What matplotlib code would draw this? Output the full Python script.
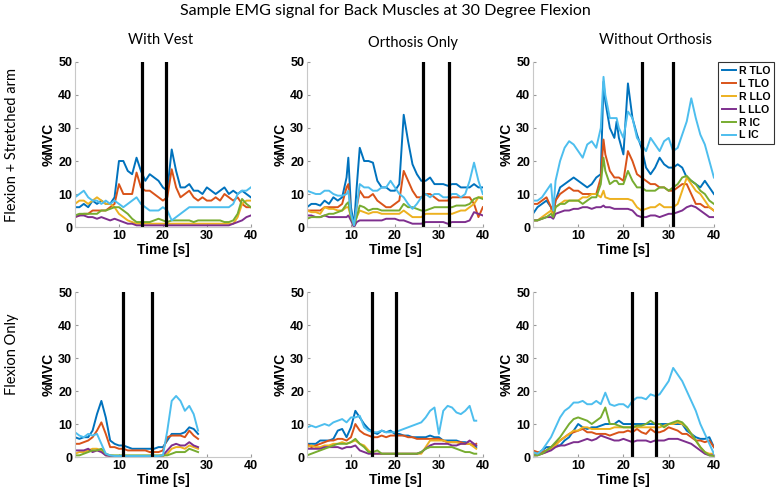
import numpy as np
import matplotlib
matplotlib.use("Agg")
import matplotlib.pyplot as plt

# Muscle names and MATLAB default line colours
muscles = ["R TLO", "L TLO", "R LLO", "L LLO", "R IC", "L IC"]
colors = ["#0072BD", "#D95319", "#EDB120", "#7E2F8E", "#77AC30", "#4DBEEE"]

col_titles = ["With Vest", "Orthosis Only", "Without Orthosis"]
row_titles = ["Flexion + Stretched arm", "Flexion Only"]

# ---- Row 1, With Vest ----
t_va = list(range(0, 41))
va_rtlo = [6, 6, 7, 6, 8, 7, 8, 7, 7, 9, 20, 20, 17, 16, 21, 17, 14, 16, 15, 14, 12, 11, 23.5, 17, 12, 12, 13, 11, 11, 10, 12, 11, 10, 11, 12, 10, 11, 10, 11, 10, 9]
va_ltlo = [3, 3.5, 4, 4, 5, 5, 5, 5, 6, 7, 13, 10, 10, 10, 16.5, 12, 11, 11, 10, 9, 8, 9, 17.5, 12, 9, 10, 11, 9, 8, 9, 8, 8, 9, 8, 10, 9, 8, 9, 7, 6, 6]
va_rllo = [7, 8, 8, 7, 8, 9, 8, 7, 7, 6, 4, 3, 2, 1.5, 1, 1, 1, 1, 1, 1, 1, 1, 1, 1, 1, 1, 1, 1, 1, 1, 1, 1, 1, 1, 1, 1, 1, 3, 7, 8, 8]
va_lllo = [3, 3.5, 3.5, 3, 3, 2.5, 3, 2.5, 2, 2.5, 2, 1.5, 1, 1, 0.5, 0.5, 0.5, 0.5, 0.5, 0.5, 0.5, 0.5, 0.5, 0.5, 0.5, 0.5, 0.5, 0.5, 0.5, 0.5, 0.5, 0.5, 0.5, 0.5, 0.5, 0.5, 1, 1.5, 2, 3, 3.5]
va_ric = [3.5, 4, 4, 4, 4, 4, 5, 5, 5.5, 6, 6, 5, 4, 2.5, 1.5, 1.5, 1.5, 1.5, 2, 2.5, 2, 1.5, 2, 2, 2, 2, 2, 1.5, 2, 2, 2, 2, 2, 2, 1.5, 1.5, 2, 4, 8.5, 7, 6]
va_lic = [9, 10, 11, 9, 8, 8, 7, 8, 7, 8, 7, 6, 7, 8, 9, 7, 6, 5, 5, 5, 6, 5, 2, 3, 4, 5, 6, 6, 6, 6, 6, 6, 6, 6, 6, 6, 7, 10, 11, 11, 12]
va_marks = [15.3, 20.7]

# ---- Row 1, Orthosis Only ----
t_oa = [0, 1, 2, 3, 4, 5, 6, 7, 8, 9, 9.4, 10, 10.7, 11.3, 12, 13, 14, 15, 16, 17, 18, 19, 20, 21, 22, 23, 24, 25, 26, 27, 28, 29, 30, 31, 32, 33, 34, 35, 36, 37, 38, 39, 40]
oa_rtlo = [6, 7, 7, 6.5, 8, 7, 9, 8, 9, 15, 21, 6, 0.5, 12, 24, 20, 20, 19.5, 14, 12, 12, 11, 11, 13, 34, 26, 19, 16, 14, 14, 15, 13, 13, 13, 12.5, 13, 13, 12, 12, 12, 13, 12, 12]
oa_ltlo = [5, 5, 5, 5, 6, 6, 6, 6, 7, 12, 13, 3, 0, 6, 11, 9, 9, 10, 8, 7, 6, 6, 7, 8, 17, 14, 11, 9, 9, 10, 10, 9, 8, 8, 8, 9, 9, 9, 9, 9, 7, 3, 6]
oa_rllo = [5, 4.5, 4.5, 4, 6, 5.5, 5.5, 5, 5, 6, 6, 3, 0.5, 3, 5, 4.5, 4, 4.5, 4.5, 4, 4, 4, 4, 4, 5, 4, 3, 3, 3, 4, 4, 4, 4, 4, 4, 4, 4.5, 5, 5, 6, 7, 9, 9]
oa_lllo = [3.5, 3.5, 3, 3, 3.5, 3, 3, 3, 3, 3, 3.5, 2, 0, 1.5, 2, 2, 2, 2, 2, 2, 2.5, 2.5, 2.5, 2, 2, 1.5, 1, 1, 1, 1.5, 1.5, 1.5, 1.5, 1.5, 1, 1.5, 1.5, 1.5, 1.5, 2, 4.5, 4, 3.5]
oa_ric = [2.5, 3, 3, 3, 3.5, 4, 4, 4.5, 5, 7, 7.5, 3, 0.5, 3, 6.5, 6, 5, 5.5, 5.5, 5, 5, 5, 5, 5, 7, 6, 6, 5.5, 5, 5, 5.5, 6, 6, 6, 6, 6, 6.5, 6.5, 6.5, 7, 8.5, 9, 8.5]
oa_lic = [11, 10.5, 10, 10, 11, 11, 10, 9.5, 9.5, 10, 11, 4, 0.5, 6, 13, 12, 12, 11, 11, 12, 12, 14, 12, 10, 9, 7, 5.5, 7, 9, 10, 9, 10, 10, 9, 9, 10, 10, 9, 10, 14, 19.5, 14, 10]
oa_marks = [26.5, 32.3]

# ---- Row 1, Without Orthosis ----
t_na = [0, 1, 2, 3, 4, 4.5, 5, 6, 7, 8, 9, 10, 11, 12, 13, 14, 15, 15.6, 16, 17, 18, 18.5, 19, 20, 21, 22, 23, 24, 25, 26, 27, 28, 29, 30, 31, 32, 33, 34, 35, 36, 37, 38, 39, 40]
na_rtlo = [4, 6, 7, 8, 6, 3, 8, 12, 13, 14, 15, 14, 13, 12, 13, 15, 16, 44, 38, 30, 27, 32, 27, 22, 43.5, 33, 28, 24, 18, 16, 18, 21, 19, 18, 18, 19, 18, 15, 14, 13, 12, 14, 12, 10]
na_ltlo = [7, 7, 8, 9, 6, 4, 8, 10, 11, 12, 11, 11, 10, 10, 10, 10, 15, 26.5, 22, 17, 15, 15, 15, 14, 23, 20, 16, 15, 14, 13, 13, 12, 12, 11, 11, 12, 13, 13, 10, 7, 7, 6, 6, 5]
na_rllo = [2, 2, 3, 4, 5, 3, 6, 7, 8, 8, 8, 8, 9, 9, 10, 10, 9, 11, 9, 8.5, 8.5, 8.5, 8.5, 8.5, 8.5, 8, 6, 5, 5.5, 6, 6, 7, 6, 6, 6, 7, 11, 15, 13, 11, 10, 8, 6, 5]
na_lllo = [2, 2, 2.5, 3, 3, 2.5, 4, 4.5, 5, 5, 5.5, 5.5, 6, 6, 5.5, 6, 6, 6.5, 6, 6, 5.5, 5.5, 5.5, 5.5, 5.5, 5, 3.5, 3, 3, 3.5, 3.5, 3, 3.5, 4, 4, 4.5, 5, 6, 6.5, 6, 5, 4, 3, 3]
na_ric = [2, 2, 2.5, 3, 4, 3, 6, 7, 7, 8, 8, 8, 7, 8, 9, 9, 13, 21, 17, 13, 14, 14, 13, 13, 17, 14, 12, 12, 11, 11, 11, 12, 12, 11, 12, 13, 15, 15.5, 14, 13, 11, 10, 8, 7]
na_lic = [8, 8, 9, 11, 13, 5, 14, 20, 24, 26, 25, 23, 21, 25, 26, 24, 30, 45.5, 40, 33, 33, 33, 30, 27, 35, 33, 27, 25, 23, 27, 25, 23, 26, 27, 23, 24, 28, 32, 39, 33, 28, 25, 20, 15]
na_marks = [24.2, 31.0]

# ---- Row 2, With Vest ----
t_vb = list(range(0, 29))
vb_rtlo = [6, 5.5, 6, 6, 8, 13, 17, 12, 5, 4, 3.5, 3.5, 3, 2.5, 2.5, 2.5, 2.5, 2.5, 2.5, 3, 3, 5, 7, 7, 7, 7.5, 9, 8.5, 7]
vb_ltlo = [4, 4, 4.5, 5, 6, 8, 10.5, 7, 3, 3, 2.5, 2.5, 2, 2, 2, 2, 2, 1.5, 1.5, 1.5, 2, 6, 6.5, 6.5, 6.5, 6, 8, 6.5, 5.5]
vb_rllo = [1, 1.5, 1.5, 2, 2.5, 2.5, 2, 0.5, 0.5, 0.3, 0.3, 0.3, 0.3, 0.3, 0.3, 0.3, 0.3, 0.3, 0.3, 0.3, 0.3, 1, 2.5, 3, 3, 2.5, 3.5, 3, 2.5]
vb_lllo = [2, 2, 2, 2.5, 1.5, 2, 1.5, 0.5, 0.3, 0.3, 0.3, 0.3, 0.3, 0.3, 0.3, 0.3, 0.3, 0.3, 0.3, 0.3, 0.5, 2, 3.5, 4, 3.5, 3.5, 4.5, 3.5, 3]
vb_ric = [0.5, 0.5, 1, 1.5, 2, 2, 2.5, 1, 0.5, 0.5, 0.5, 0.5, 0.5, 0.5, 0.5, 0.5, 0.5, 0.5, 0.5, 0.5, 0.5, 0.5, 1, 1.5, 1.5, 1.5, 2.5, 2, 1.5]
vb_lic = [7.5, 6.5, 6, 7, 6.5, 7, 4, 1, 0.5, 0.3, 0.3, 0.3, 0.3, 0.3, 0.3, 0.3, 0.3, 0.3, 0.3, 0.3, 0.5, 8, 17, 18.5, 17, 14, 15.5, 13, 8]
vb_marks = [11.0, 17.5]

# ---- Row 2, Orthosis Only ----
t_ob = list(range(0, 39)) + [38.5]
ob_rtlo = [4, 4, 4, 5, 5, 5, 5.5, 8, 8.5, 6, 9, 14, 12, 10, 8.5, 7.5, 7, 8, 7.5, 8, 7, 7, 6.5, 6.5, 6, 6, 6, 6, 6.5, 6, 6, 5, 5, 5, 5, 4.5, 4.5, 4, 3.5, 3]
ob_ltlo = [4, 3, 3.5, 4, 4.5, 5, 5, 5.5, 5.5, 5, 6, 10, 8, 7, 6.5, 6, 6, 6.5, 6, 6.5, 6.5, 6.5, 6.5, 6, 6, 5.5, 5.5, 5.5, 5.5, 5.5, 5.5, 5, 4.5, 4.5, 4.5, 4.5, 4, 4, 3.5, 4]
ob_rllo = [3, 3.5, 3, 3, 3.5, 3.5, 4, 4, 4.5, 4, 4.5, 5, 4, 3.5, 2, 1, 1, 1, 1, 1, 1, 1, 1, 1, 1, 1, 1, 3, 5, 5, 5, 5, 4.5, 4.5, 4.5, 4, 4, 4, 3, 2.5]
ob_lllo = [2.5, 2.5, 2.5, 2.5, 3, 3, 3, 3, 2.5, 3, 3, 3.5, 2, 1.5, 1, 1, 1, 1, 1, 1, 1, 1, 1, 1, 1, 1, 1.5, 2.5, 3.5, 4, 4, 4, 4, 3.5, 3.5, 4, 4, 5, 4, 3.5]
ob_ric = [0.5, 1, 1.5, 2, 2.5, 3, 3.5, 4, 4, 4, 4.5, 5.5, 4, 3, 1.5, 1.5, 2, 1, 1, 1, 1, 1, 1, 1, 1, 1, 1.5, 2.5, 3, 3, 3, 3, 3, 3, 2.5, 2, 1.5, 1.5, 1, 1]
ob_lic = [9, 9.5, 9, 9.5, 10, 9.5, 10.5, 11, 11.5, 10.5, 12, 12, 12.5, 9, 8, 7.5, 7.5, 8, 7.5, 7.5, 7.5, 8, 8.5, 9, 9.5, 10, 10.5, 12, 14, 15, 7, 14, 15.5, 15, 13.5, 13, 14, 15.5, 11, 11]
ob_marks = [14.8, 20.2]

# ---- Row 2, Without Orthosis ----
t_nb = list(range(0, 41))
nb_rtlo = [1, 1, 2, 3, 3, 3.5, 3.5, 5, 6, 8, 10, 9, 8.5, 9, 9, 9.5, 10, 10, 10, 11, 10, 10, 10, 10, 10, 10, 10, 10, 10, 10, 10, 10, 10, 10, 8, 7, 6, 5.5, 5.5, 6, 3]
nb_ltlo = [2, 1.5, 1.5, 2, 3, 4, 5, 6, 7, 7.5, 8, 8.5, 7.5, 7.5, 7, 7, 7, 6.5, 7, 7.5, 7.5, 8, 7.5, 8.5, 7.5, 7, 8.5, 7.5, 7.5, 8, 9, 8.5, 8, 7, 7, 6, 5, 5, 4.5, 5, 3]
nb_rllo = [1, 1, 1, 1.5, 2.5, 3.5, 5, 6, 7, 8, 8, 9, 9, 8.5, 8.5, 8.5, 8.5, 8.5, 9, 9, 9, 9, 9, 9, 9, 9, 9, 9, 9, 9.5, 10, 10, 10.5, 10, 9, 7, 5, 3, 1.5, 1, 1]
nb_lllo = [0.5, 0.5, 1, 1.5, 2, 3, 3.5, 3.5, 4, 4.5, 4.5, 5, 5.5, 5, 5.5, 6.5, 6, 5.5, 5, 5, 5.5, 5, 4.5, 5, 5, 5, 4.5, 5, 5, 5, 5.5, 5.5, 5.5, 5, 4.5, 4, 3, 2, 1, 0.5, 0.5]
nb_ric = [0.5, 0.5, 1, 2, 3, 4.5, 6, 8, 10, 11.5, 12, 11.5, 11, 10, 11, 12, 15, 10, 10, 9.5, 9, 9, 9, 9.5, 9.5, 10, 11, 10, 10, 9, 10, 10.5, 11, 10.5, 9, 7, 5, 3, 1.5, 0.5, 0.3]
nb_lic = [1.5, 1, 2, 4, 6, 9, 12, 14, 15, 16.5, 16.5, 17, 16, 16, 17, 16, 19.5, 16, 15.5, 16, 16, 15, 17, 18, 18, 17.5, 19, 18.5, 19, 21, 23, 27, 25, 23, 20, 17, 14, 10, 7, 4, 1]
nb_marks = [22.0, 27.3]

panels = [
    [(t_va, [va_rtlo, va_ltlo, va_rllo, va_lllo, va_ric, va_lic], va_marks),
     (t_oa, [oa_rtlo, oa_ltlo, oa_rllo, oa_lllo, oa_ric, oa_lic], oa_marks),
     (t_na, [na_rtlo, na_ltlo, na_rllo, na_lllo, na_ric, na_lic], na_marks)],
    [(t_vb, [vb_rtlo, vb_ltlo, vb_rllo, vb_lllo, vb_ric, vb_lic], vb_marks),
     (t_ob, [ob_rtlo, ob_ltlo, ob_rllo, ob_lllo, ob_ric, ob_lic], ob_marks),
     (t_nb, [nb_rtlo, nb_ltlo, nb_rllo, nb_lllo, nb_ric, nb_lic], nb_marks)],
]

fig = plt.figure(figsize=(7.78, 4.92), dpi=100)

# axes placement (figure fractions)
lefts = [0.0964, 0.3946, 0.685]
widths = [0.226, 0.226, 0.2326]
bottoms = [0.5386, 0.0711]
height = 0.3354

for r in range(2):
    for c in range(3):
        ax = fig.add_axes([lefts[c], bottoms[r], widths[c], height])
        t, series, marks = panels[r][c]
        for vals, col, name in zip(series, colors, muscles):
            ax.plot(t, vals, color=col, lw=1.4, label=name)
        for m in marks:
            ax.axvline(m, color="black", lw=2.3)
        ax.set_xlim(0, 40)
        ax.set_ylim(0, 50)
        ax.set_xticks([10, 20, 30, 40])
        ax.set_yticks([0, 10, 20, 30, 40, 50])
        for s in ["top", "right"]:
            ax.spines[s].set_visible(False)
        for s in ["left", "bottom"]:
            ax.spines[s].set_color("#c8c8c8")
            ax.spines[s].set_linewidth(0.8)
        ax.tick_params(direction="in", length=2, color="#999999", labelsize=9, pad=2)
        for lab in ax.get_xticklabels() + ax.get_yticklabels():
            lab.set_fontweight("bold")
            lab.set_family("Liberation Sans")
        ax.set_xlabel("Time [s]", fontsize=10, fontweight="bold", family="Liberation Sans", labelpad=1)
        ax.set_ylabel("%MVC", fontsize=10, fontweight="bold", family="Liberation Sans", labelpad=2)
        if r == 0 and c == 2:
            leg = ax.legend(loc="upper left", bbox_to_anchor=(1.025, 1.0), frameon=True, fancybox=False,
                            edgecolor="black", fontsize=7.6, handlelength=1.3, handletextpad=0.3,
                            borderpad=0.35, labelspacing=0.28, borderaxespad=0)
            leg.get_frame().set_linewidth(0.8)
            for txt in leg.get_texts():
                txt.set_fontweight("bold")
                txt.set_family("Liberation Sans")

# titles
fig.text(0.495, 0.978, "Sample EMG signal for Back Muscles at 30 Degree Flexion",
         ha="center", va="center", fontsize=11.5, family="Lato")
col_x = [0.206, 0.531, 0.842]
col_y = [0.918, 0.913, 0.918]
for x, y, name in zip(col_x, col_y, col_titles):
    fig.text(x, y, name, ha="center", va="center", fontsize=10.5, family="Lato")
row_y = [0.705, 0.28]
for y, name in zip(row_y, row_titles):
    fig.text(0.016, y, name, ha="center", va="center", rotation=90, fontsize=10.5, family="Lato")

fig.savefig("out.png", dpi=100)
